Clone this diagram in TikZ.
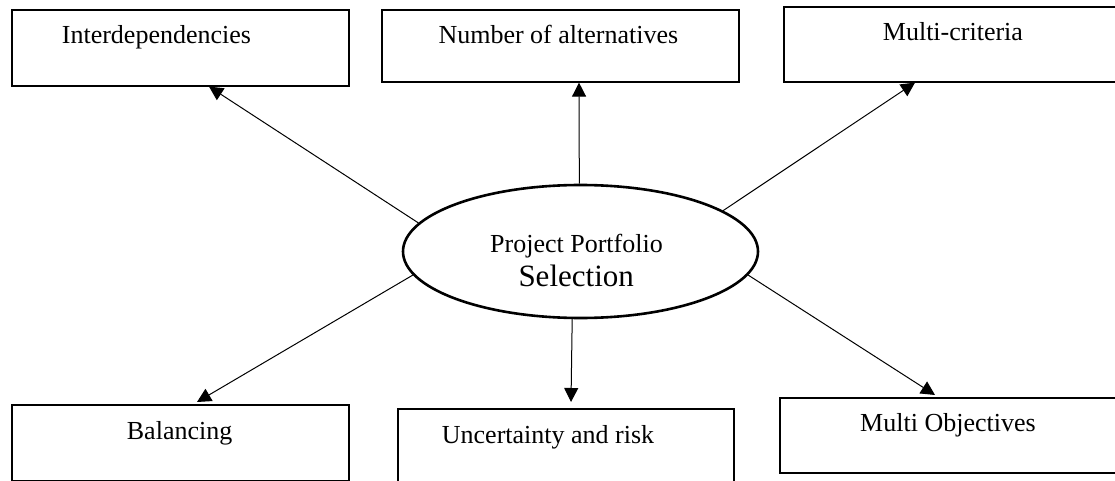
\documentclass[tikz,border=0pt]{standalone}
\usepackage{fontspec}
\setmainfont{Liberation Serif}
\usetikzlibrary{shapes.geometric,arrows.meta}
\begin{document}
\begin{tikzpicture}[x=1pt,y=-1pt,
  box/.style={draw,line width=1.6pt,inner sep=0pt,anchor=north west},
  lbl/.style={inner sep=0pt,anchor=base west,font=\fontsize{26}{30}\selectfont},
  link/.style={line width=1pt,-{Triangle[width=14pt,length=14pt]}}]
\clip (0,0) rectangle (1115,481);
\useasboundingbox (0,0) rectangle (1115,481);

% outer boxes
\node[box,minimum width=337pt,minimum height=75.5pt] (A) at (11,9.5) {};
\node[box,minimum width=357pt,minimum height=72pt]   (B) at (381,9) {};
\node[box,minimum width=340pt,minimum height=75pt]   (C) at (783,6) {};
\node[box,minimum width=337pt,minimum height=76pt]   (D) at (11,404) {};
\node[box,minimum width=336pt,minimum height=100pt]  (E) at (397,408) {};
\node[box,minimum width=337pt,minimum height=75pt]   (F) at (779,397) {};

% box captions
\node[lbl] (tA) at (61.7,44)    {Interdependencies};
\node[lbl] (tB) at (438.3,43.3) {Number of alternatives};
\node[lbl] (tC) at (882.7,41)   {Multi-criteria};
\node[lbl] (tD) at (126.7,439)  {Balancing};
\node[lbl] (tE) at (441.7,443)  {Uncertainty and risk};
\node[lbl] (tF) at (860,431.7)  {Multi Objectives};

% central ellipse
\node[ellipse,draw,line width=2.6pt,minimum width=355pt,minimum height=133pt,inner sep=0pt] (P) at (580.5,251.5) {};
\node[lbl] (t1) at (490,252.3) {Project Portfolio};
\node[lbl,font=\fontsize{31}{36}\selectfont] (t2) at (518.3,286.7) {Selection};

% connectors
\draw[link] (P.170) -- ([xshift=198pt]A.south west);
\draw[link] (P.91)  -- ([xshift=198pt]B.south west);
\draw[link] (P.16)  -- ([xshift=132pt]C.south west);
\draw[link] (P.352) -- ([xshift=156pt,yshift=2pt]F.north west);
\draw[link] (P.263) -- ([xshift=174pt,yshift=6pt]E.north west);
\draw[link] (P.188) -- ([xshift=186pt,yshift=2pt]D.north west);
\end{tikzpicture}
\end{document}
